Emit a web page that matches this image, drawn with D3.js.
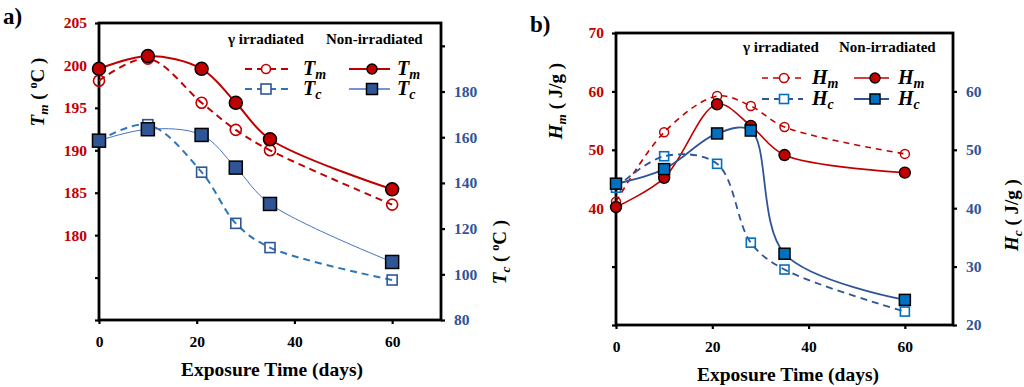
<!DOCTYPE html>
<html><head><meta charset="utf-8">
<script src="https://cdn.jsdelivr.net/npm/d3@7"></script>
<style>
body{margin:0;background:#fff;}
svg, svg text{font-family:"Liberation Serif","DejaVu Serif",serif;}
</style>
</head><body>
<svg id="c" width="1024" height="387" font-family="Liberation Serif"></svg>
<script>
// ---------- DATA ----------
const days = [0, 10, 21, 28, 35, 60];
const xTicks = [0, 20, 40, 60];

// Panel a
const tmIrr = [198.2, 200.8, 195.6, 192.4, 190.0, 183.6];
const tmNon = [199.6, 201.1, 199.6, 195.6, 191.3, 185.4];
const tcIrr = [158.5, 165.5, 144.7, 122.3, 111.7, 97.5];
const tcNon = [158.5, 163.5, 161.0, 146.7, 130.8, 105.4];
const tmTicks = [170, 175, 180, 185, 190, 195, 200, 205];
const tmTickLabels = [180, 185, 190, 195, 200, 205];
const tcTicks = [80, 100, 120, 140, 160, 180, 200];
const tcTickLabels = [80, 100, 120, 140, 160, 180];

// Panel b
const hmIrr = [41.1, 53.0, 59.2, 57.5, 53.9, 49.3];
const hmNon = [40.2, 45.2, 57.8, 54.1, 49.1, 46.1];
const hcIrr = [43.5, 48.9, 47.6, 34.1, 29.5, 22.3];
const hcNon = [44.2, 46.7, 52.8, 53.3, 32.2, 24.3];
const hmTicks = [20, 30, 40, 50, 60, 70];
const hmTickLabels = [40, 50, 60, 70];
const hcTicks = [20, 30, 40, 50, 60];
const hcTickLabels = [20, 30, 40, 50, 60];

const legendHeadIrr = "γ irradiated";
const legendHeadNon = "Non-irradiated";
const xTitle = "Exposure Time (days)";

// ---------- DRAW ----------
const FONT = "Liberation Serif";
const svg = d3.select("#c");
const RED = "#c00000";
const BLUE_LBL = "#2f5597";

function addSubText(sel, main, sub, size, opts) {
  const t = sel.append("text")
    .attr("font-family", FONT)
    .attr("font-weight", "bold")
    .attr("font-size", size)
    .attr("fill", "#000");
  t.append("tspan").attr("font-style", "italic").text(main);
  t.append("tspan").attr("font-style", "italic").attr("font-size", size * 0.7)
    .attr("dy", size * 0.22).text(sub);
  if (opts && opts.unit) {
    t.append("tspan").attr("dy", -size * 0.22).text(" ( ");
    if (opts.deg) {
      t.append("tspan").attr("font-size", size * 0.65).attr("dy", -size * 0.35).text("o");
      t.append("tspan").attr("dy", size * 0.35).text("C )");
    } else {
      t.append("tspan").text(opts.unit + " )");
    }
  }
  return t;
}

function panel(o) {
  const g = svg.append("g").attr("font-family", FONT);
  const x = d3.scaleLinear().domain([0, 70]).range([o.left, o.right]);
  const yL = d3.scaleLinear().domain(o.yLdom).range([o.bottom, o.top]);
  const yR = d3.scaleLinear().domain(o.yRdom).range([o.bottom, o.top]);

  // axes
  const axB = g.append("g").attr("transform", `translate(0,${o.bottom})`)
    .call(d3.axisBottom(x).tickValues(xTicks).tickSize(4).tickSizeOuter(0).tickPadding(12));
  const axL = g.append("g").attr("transform", `translate(${o.left},0)`)
    .call(d3.axisLeft(yL).tickValues(o.yLticks).tickSize(4).tickSizeOuter(0).tickPadding(8)
      .tickFormat(d => o.yLlabels.includes(d) ? d : ""));
  const axR = g.append("g").attr("transform", `translate(${o.right},0)`)
    .call(d3.axisRight(yR).tickValues(o.yRticks).tickSize(4).tickSizeOuter(0).tickPadding(9)
      .tickFormat(d => o.yRlabels.includes(d) ? d : ""));
  [axB, axL, axR].forEach(a => {
    a.attr("font-family", FONT);
    a.select(".domain").remove();
    a.selectAll(".tick line").attr("stroke", "#000").attr("stroke-width", 2.2);
    a.selectAll(".tick text").attr("font-family", FONT)
      .attr("font-weight", "bold").attr("font-size", 15.5);
  });
  axB.selectAll(".tick text").attr("fill", "#000");
  axL.selectAll(".tick text").attr("fill", RED);
  axR.selectAll(".tick text").attr("fill", BLUE_LBL);

  // frame
  g.append("rect").attr("x", o.left).attr("y", o.top)
    .attr("width", o.right - o.left).attr("height", o.bottom - o.top)
    .attr("fill", "none").attr("stroke", "#000").attr("stroke-width", 2.8);

  const curve = d3.curveCatmullRom.alpha(0.5);
  const series = o.series;
  series.forEach(s => {
    const y = s.axis === "L" ? yL : yR;
    const pts = days.map((d, i) => [d, s.values[i]]);
    g.append("path").datum(pts)
      .attr("fill", "none").attr("stroke", s.lineColor).attr("stroke-width", s.lineWidth)
      .attr("stroke-dasharray", s.dash || null)
      .attr("d", d3.line().x(d => x(d[0])).y(d => y(d[1])).curve(curve));
  });
  series.forEach(s => {
    const y = s.axis === "L" ? yL : yR;
    const pts = days.map((d, i) => [d, s.values[i]]);
    const m = g.append("g");
    if (s.shape === "circle") {
      m.selectAll("circle").data(pts).join("circle")
        .attr("cx", d => x(d[0])).attr("cy", d => y(d[1])).attr("r", s.size)
        .attr("fill", s.fill).attr("stroke", s.stroke).attr("stroke-width", s.sw);
    } else {
      m.selectAll("rect").data(pts).join("rect")
        .attr("x", d => x(d[0]) - s.size).attr("y", d => y(d[1]) - s.size)
        .attr("width", s.size * 2).attr("height", s.size * 2)
        .attr("fill", s.fill).attr("stroke", s.stroke).attr("stroke-width", s.sw);
    }
  });

  // x title
  g.append("text").attr("x", o.xTitleX).attr("y", o.bottom + 56)
    .attr("text-anchor", "middle").attr("font-weight", "bold").attr("font-size", 19.5)
    .attr("font-family", FONT).text(xTitle);

  // y titles
  const lt = addSubText(g, o.ylTitle[0], o.ylTitle[1], 19, o.ylTitle[2]);
  lt.attr("text-anchor", "middle")
    .attr("transform", `translate(${o.ylTitleX},${o.ylTitleY}) rotate(-90)`);
  const rt = addSubText(g, o.yrTitle[0], o.yrTitle[1], 19, o.yrTitle[2]);
  rt.attr("text-anchor", "middle")
    .attr("transform", `translate(${o.yrTitleX},${o.yrTitleY}) rotate(-90)`);

  // panel label
  g.append("text").attr("x", o.lblX).attr("y", o.lblY).attr("font-weight", "bold")
    .attr("font-family", FONT).attr("font-size", 23).text(o.label);

  // legend
  const L = o.legend;
  g.append("text").attr("x", L.irrX).attr("y", L.headY).attr("font-weight", "bold")
    .attr("font-family", FONT).attr("font-size", 15).text(legendHeadIrr);
  g.append("text").attr("x", L.nonX).attr("y", L.headY).attr("font-weight", "bold")
    .attr("font-family", FONT).attr("font-size", 15).text(legendHeadNon);
  const rows = [[series[0], series[1], L.row1, o.names[0]], [series[2], series[3], L.row2, o.names[1]]];
  rows.forEach(([sI, sN, ry, nm]) => {
    [[sI, L.dashX0, L.dashX1, L.dashM, L.labI], [sN, L.solX0, L.solX1, L.solM, L.labN]].forEach(([s, x0, x1, mx, lx]) => {
      g.append("line").attr("x1", x0).attr("x2", x1).attr("y1", ry).attr("y2", ry)
        .attr("stroke", s.lineColor).attr("stroke-width", Math.max(s.lineWidth, 1.5))
        .attr("stroke-dasharray", s.dash || null);
      const fill = s.fill === "none" ? "#fff" : s.fill;
      if (s.shape === "circle") {
        g.append("circle").attr("cx", mx).attr("cy", ry).attr("r", s.lsize)
          .attr("fill", fill).attr("stroke", s.stroke).attr("stroke-width", s.sw);
      } else {
        g.append("rect").attr("x", mx - s.lsize).attr("y", ry - s.lsize)
          .attr("width", s.lsize * 2).attr("height", s.lsize * 2)
          .attr("fill", fill).attr("stroke", s.stroke).attr("stroke-width", s.sw);
      }
      const t = addSubText(g, nm[0], nm[1], 20);
      t.attr("x", lx).attr("y", ry + 6);
    });
  });
}

panel({
  left: 99, right: 441, top: 23, bottom: 320,
  yLdom: [170, 205], yRdom: [80, 210],
  yLticks: tmTicks, yLlabels: tmTickLabels,
  yRticks: tcTicks, yRlabels: tcTickLabels,
  xTitleX: 272,
  ylTitle: ["T", "m", {unit: "°C", deg: true}], ylTitleX: 44, ylTitleY: 92,
  yrTitle: ["T", "c", {unit: "°C", deg: true}], yrTitleX: 506, yrTitleY: 252,
  label: "a)", lblX: 3, lblY: 24,
  names: [["T", "m"], ["T", "c"]],
  legend: {irrX: 228, nonX: 326, headY: 44, row1: 69, row2: 89,
    dashX0: 245, dashX1: 289, dashM: 266, labI: 303,
    solX0: 349, solX1: 390, solM: 372, labN: 397},
  series: [
    {values: tmIrr, axis: "L", shape: "circle", size: 5.5, lsize: 4.5, fill: "none", stroke: RED, sw: 1.6,
     lineColor: RED, lineWidth: 2, dash: "7,5"},
    {values: tmNon, axis: "L", shape: "circle", size: 6.5, lsize: 5, fill: RED, stroke: "#000", sw: 1.5,
     lineColor: RED, lineWidth: 2},
    {values: tcIrr, axis: "R", shape: "square", size: 5, lsize: 5, fill: "none", stroke: "#2f5597", sw: 1.6,
     lineColor: "#2e75b6", lineWidth: 2, dash: "7,5"},
    {values: tcNon, axis: "R", shape: "square", size: 6.5, lsize: 5.5, fill: "#2f5597", stroke: "#000", sw: 1.5,
     lineColor: "#4472c4", lineWidth: 1}
  ]
});

panel({
  left: 616, right: 953, top: 33, bottom: 325,
  yLdom: [20, 70], yRdom: [20, 70],
  yLticks: hmTicks, yLlabels: hmTickLabels,
  yRticks: hcTicks, yRlabels: hcTickLabels,
  xTitleX: 788,
  ylTitle: ["H", "m", {unit: "J/g"}], ylTitleX: 562, ylTitleY: 101,
  yrTitle: ["H", "c", {unit: "J/g"}], yrTitleX: 1018, yrTitleY: 215,
  label: "b)", lblX: 530, lblY: 32,
  names: [["H", "m"], ["H", "c"]],
  legend: {irrX: 743, nonX: 839, headY: 52, row1: 78, row2: 99,
    dashX0: 762, dashX1: 803, dashM: 784, labI: 812,
    solX0: 854, solX1: 889, solM: 875, labN: 898},
  series: [
    {values: hmIrr, axis: "L", shape: "circle", size: 4.5, lsize: 4.5, fill: "none", stroke: RED, sw: 1.5,
     lineColor: RED, lineWidth: 1.6, dash: "6,5"},
    {values: hmNon, axis: "L", shape: "circle", size: 5.5, lsize: 5, fill: RED, stroke: "#000", sw: 1.4,
     lineColor: RED, lineWidth: 1.6},
    {values: hcIrr, axis: "R", shape: "square", size: 4.5, lsize: 4.5, fill: "none", stroke: "#0070c0", sw: 1.6,
     lineColor: "#2f5597", lineWidth: 1.8, dash: "7,5"},
    {values: hcNon, axis: "R", shape: "square", size: 5.5, lsize: 5, fill: "#0070c0", stroke: "#000", sw: 1.5,
     lineColor: "#2f5597", lineWidth: 1.8}
  ]
});
</script>
</body></html>
